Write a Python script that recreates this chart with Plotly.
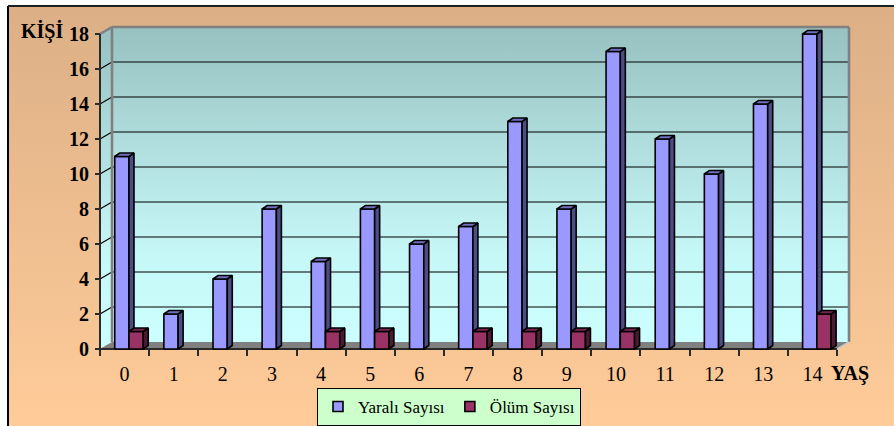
import base64
import plotly.graph_objects as go

# ---- data -------------------------------------------------------------
ages = [str(a) for a in range(15)]
yarali = [11, 2, 4, 8, 5, 8, 6, 7, 13, 8, 17, 12, 10, 14, 18]
olum = [1, 0, 0, 0, 1, 1, 0, 1, 1, 1, 1, 0, 0, 0, 2]
y_ticks = [0, 2, 4, 6, 8, 10, 12, 14, 16, 18]
series_names = ["Yaralı Sayısı", "Ölüm Sayısı"]

# ---- page geometry (pixels) ------------------------------------------
W, H = 894, 426
X0, Y0 = 100, 349            # front-left corner of the floor
S = 737 / len(ages)          # pixels per category
R = 17.5                     # pixels per unit
DX, DY = 12 / S, 7 / R       # depth of the floor / walls in data units
BDX, BDY = 5 / S, 3.5 / R    # depth of each bar in data units
FONT = "Liberation Serif"

x_lo = -0.5 - 4 / S
x_hi = -0.5 + (856 - X0) / S
y_lo = -4 / R
y_hi = (Y0 - 20) / R
x_left, x_right = -0.5, len(ages) - 0.5
y_top = y_ticks[-1]


def poly_trace(polys, fill=None, line_color="black", line_width=0.0, **kw):
    xs, ys = [], []
    for p in polys:
        xs += [pt[0] for pt in p] + [p[0][0], None]
        ys += [pt[1] for pt in p] + [p[0][1], None]
    args = dict(x=xs, y=ys, mode="lines", xaxis="x2", yaxis="y",
                line=dict(color=line_color, width=line_width),
                hoverinfo="skip", showlegend=False)
    if fill is not None:
        args.update(fill="toself", fillcolor=fill)
    args.update(kw)
    return go.Scatter(**args)


def line_trace(segs, color, width):
    xs, ys = [], []
    for s in segs:
        xs += [s[0][0], s[1][0], None]
        ys += [s[0][1], s[1][1], None]
    return go.Scatter(x=xs, y=ys, mode="lines", xaxis="x2", yaxis="y",
                      line=dict(color=color, width=width),
                      hoverinfo="skip", showlegend=False)


wall_grad = dict(type="vertical", start=0, stop=y_top + DY,
                 colorscale=[[0, "#CCFFFF"], [0.3, "#C6F7F7"], [1, "#98C1C1"]])

traces = []
# invisible trace that populates the category axis
traces.append(go.Scatter(x=ages, y=yarali, mode="markers", marker=dict(opacity=0),
                         hoverinfo="skip", showlegend=False))

# back wall and left side wall
back = [(x_left + DX, DY), (x_right + DX, DY), (x_right + DX, y_top + DY), (x_left + DX, y_top + DY)]
side = [(x_left, 0), (x_left + DX, DY), (x_left + DX, y_top + DY), (x_left, y_top)]
traces.append(poly_trace([back], fill="#CCFFFF", fillgradient=wall_grad))
traces.append(poly_trace([side], fill="#CCFFFF", fillgradient=wall_grad))

# gridlines on both walls
grid = []
for v in y_ticks[1:-1]:
    grid.append(((x_left + DX, v + DY), (x_right + DX, v + DY)))
    grid.append(((x_left, v), (x_left + DX, v + DY)))
traces.append(line_trace(grid, "black", 1.2))

# wall borders
traces.append(line_trace([((x_left + DX, DY), (x_left + DX, y_top + DY)),
                          ((x_left + DX, y_top + DY), (x_right + DX, y_top + DY)),
                          ((x_right + DX, y_top + DY), (x_right + DX, DY)),
                          ((x_left, y_top), (x_left + DX, y_top + DY))], "#808080", 2.6))

# floor
floor = [(x_left, 0), (x_right, 0), (x_right + DX, DY), (x_left + DX, DY)]
traces.append(poly_trace([floor], fill="#808080"))
traces.append(line_trace([((x_right, 0), (x_right + DX, DY))], "#C8C8C8", 1.5))
traces.append(line_trace([((x_left, 0), (x_right, 0))], "#2A2A2A", 2))
traces.append(line_trace([((x_left, 0), (x_left, y_top))], "#2A2A2A", 2))

# bars with front, side and top faces
bar_styles = [
    dict(vals=yarali, lo=-0.20, hi=0.09, front="#9999FF", sidec="#4D4D85", topc="#7070C0"),
    dict(vals=olum, lo=0.09, hi=0.38, front="#993366", sidec="#4D1A33", topc="#742650"),
]
for st in bar_styles:
    fronts, sides, tops = [], [], []
    for i, v in enumerate(st["vals"]):
        if v <= 0:
            continue
        a, b = i + st["lo"], i + st["hi"]
        fronts.append([(a, 0), (b, 0), (b, v), (a, v)])
        sides.append([(b, 0), (b + BDX, BDY), (b + BDX, v + BDY), (b, v)])
        tops.append([(a, v), (b, v), (b + BDX, v + BDY), (a + BDX, v + BDY)])
    traces.append(poly_trace(fronts, fill=st["front"], line_width=1.6))
    traces.append(poly_trace(sides, fill=st["sidec"], line_width=1.6))
    traces.append(poly_trace(tops, fill=st["topc"], line_width=1.6))

# legend entries
for name, col in zip(series_names, ["#9999FF", "#993366"]):
    traces.append(go.Scatter(x=[None], y=[None], mode="markers", name=name,
                             xaxis="x2", yaxis="y",
                             marker=dict(symbol="square", size=10, color=col,
                                         line=dict(color="black", width=1.6))))

fig = go.Figure(traces)

# warm gradient behind the whole chart
svg = ('<svg xmlns="http://www.w3.org/2000/svg" width="886" height="420" preserveAspectRatio="none">'
       '<defs><linearGradient id="g" x1="0" y1="0" x2="0" y2="1">'
       '<stop offset="0" stop-color="#DCAF86"/><stop offset="1" stop-color="#FFCC99"/>'
       '</linearGradient></defs><rect width="100%" height="100%" fill="url(#g)"/></svg>')
bg_uri = "data:image/svg+xml;base64," + base64.b64encode(svg.encode()).decode()

fig.update_layout(
    width=W, height=H, autosize=False,
    margin=dict(l=0, r=0, t=0, b=0, autoexpand=False),
    paper_bgcolor="white", plot_bgcolor="rgba(0,0,0,0)",
    font=dict(family=FONT, color="black"),
    images=[dict(source=bg_uri, xref="paper", yref="paper",
                 x=8 / W, y=1 - 6 / H, sizex=(W - 8) / W, sizey=(H - 6) / H,
                 xanchor="left", yanchor="top", sizing="stretch", layer="below")],
    shapes=[
        dict(type="line", xref="paper", yref="paper", x0=8 / W, x1=8 / W,
             y0=0, y1=1 - 6 / H, line=dict(color="black", width=2)),
        dict(type="line", xref="paper", yref="paper", x0=8 / W, x1=1,
             y0=1 - 6 / H, y1=1 - 6 / H, line=dict(color="#202020", width=2)),
    ],
    xaxis=dict(type="category", domain=[96 / W, 856 / W], range=[x_lo, x_hi],
               anchor="free", position=1 - Y0 / H, automargin=False,
               tickson="boundaries", ticks="outside", ticklen=6, tickwidth=1.5,
               tickcolor="#2A2A2A", showgrid=False, showline=False, zeroline=False,
               tickfont=dict(family=FONT, size=20, color="black"),
               ticklabelstandoff=11, fixedrange=True),
    xaxis2=dict(overlaying="x", domain=[96 / W, 856 / W], range=[x_lo, x_hi],
                visible=False, anchor="y", automargin=False, fixedrange=True),
    yaxis=dict(domain=[1 - 353 / H, 1 - 20 / H], range=[y_lo, y_hi],
               anchor="free", position=X0 / W, automargin=False,
               tickmode="array", tickvals=y_ticks, ticks="outside", ticklen=5,
               tickwidth=1.5, tickcolor="#2A2A2A", showgrid=False, showline=False,
               zeroline=False,
               tickfont=dict(family=FONT, size=20, color="black", weight="bold"),
               ticklabelstandoff=2, fixedrange=True),
    legend=dict(orientation="h", xref="container", yref="container",
                x=449 / W, xanchor="center", y=1 - 388 / H, yanchor="top",
                bgcolor="#CCFFCC", bordercolor="black", borderwidth=1,
                font=dict(family=FONT, size=17, color="black"), itemwidth=30,
                traceorder="normal"),
    annotations=[
        dict(text="<b>KİŞİ</b>", xref="paper", yref="paper", x=42 / W, y=1 - 31 / H,
             xanchor="center", yanchor="middle", showarrow=False,
             font=dict(family=FONT, size=20, color="black")),
        dict(text="<b>YAŞ</b>", xref="paper", yref="paper", x=850 / W, y=1 - 373 / H,
             xanchor="center", yanchor="middle", showarrow=False,
             font=dict(family=FONT, size=20, color="black")),
    ],
)

fig.write_html("out.html")
